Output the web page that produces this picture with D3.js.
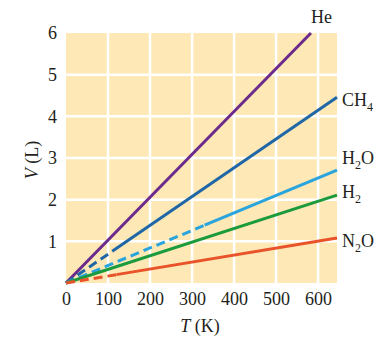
<!DOCTYPE html>
<html>
<head>
<meta charset="utf-8">
<script src="https://cdn.jsdelivr.net/npm/d3@7"></script>
<style>
  body { margin: 0; background: white; }
  text { font-family: "Liberation Serif", "DejaVu Serif", serif; fill: #231f20; }
</style>
</head>
<body>
<script>
var gases = ['He', 'CH4', 'H2O', 'H2', 'N2O'];
var endT = [583, 645, 645, 645, 645];
var endV = [6, 4.46, 2.71, 2.11, 1.08];
var dashUntil = [0, 110, 330, 0, 120];
var colors = ['#6b2a8c', '#1f67a6', '#29a4dd', '#1c9a3e', '#e9532a'];
var xTicks = [0, 100, 200, 300, 400, 500, 600];
var yTicks = [1, 2, 3, 4, 5, 6];

var width = 382, height = 340;
var margin = { top: 33, right: 45, bottom: 57, left: 66 };

var svg = d3.select('body')
  .append('svg')
  .attr('width', width)
  .attr('height', height);

var x = d3.scaleLinear().domain([0, 645]).range([margin.left, width - margin.right]);
var y = d3.scaleLinear().domain([0, 6]).range([height - margin.bottom, margin.top]);

// background of the plot
svg.append('rect')
  .attr('x', x(0))
  .attr('y', y(6))
  .attr('width', x(645) - x(0))
  .attr('height', y(0) - y(6))
  .attr('fill', '#fde8b6');

// white grid
svg.append('g')
  .selectAll('line')
  .data(xTicks.slice(1))
  .enter()
  .append('line')
  .attr('x1', function(d) { return x(d); })
  .attr('x2', function(d) { return x(d); })
  .attr('y1', y(0))
  .attr('y2', y(6))
  .attr('stroke', 'white')
  .attr('stroke-width', 2.5);

svg.append('g')
  .selectAll('line')
  .data(yTicks.slice(0, 5))
  .enter()
  .append('line')
  .attr('x1', x(0))
  .attr('x2', x(645))
  .attr('y1', function(d) { return y(d); })
  .attr('y2', function(d) { return y(d); })
  .attr('stroke', 'white')
  .attr('stroke-width', 2.5);

// axes (ticks text only)
var xAxis = svg.append('g')
  .attr('transform', 'translate(0,' + y(0) + ')')
  .call(d3.axisBottom(x).tickValues(xTicks).tickFormat(d3.format('d')).tickSize(0).tickPadding(9));
var yAxis = svg.append('g')
  .attr('transform', 'translate(' + x(0) + ',0)')
  .call(d3.axisLeft(y).tickValues(yTicks).tickFormat(d3.format('d')).tickSize(0).tickPadding(9));
[xAxis, yAxis].forEach(function(a) {
  a.select('.domain').remove();
  a.selectAll('text')
    .style('font-family', '"Liberation Serif", serif')
    .style('font-size', '18px')
    .attr('fill', '#231f20');
});

// gas lines: dashed part then solid part
gases.forEach(function(g, i) {
  var slope = endV[i] / endT[i];
  if (dashUntil[i] > 0) {
    svg.append('line')
      .attr('x1', x(0)).attr('y1', y(0))
      .attr('x2', x(dashUntil[i])).attr('y2', y(dashUntil[i] * slope))
      .attr('stroke', colors[i])
      .attr('stroke-width', 3)
      .attr('stroke-dasharray', '9,5');
  }
  svg.append('line')
    .attr('x1', x(dashUntil[i])).attr('y1', y(dashUntil[i] * slope))
    .attr('x2', x(endT[i])).attr('y2', y(endV[i]))
    .attr('stroke', colors[i])
    .attr('stroke-width', 3);
});

// labels at line ends
var labelPos = [[311, 23], [342, 106], [342, 164], [342, 198], [342, 247]];
gases.forEach(function(g, i) {
  var t = svg.append('text')
    .attr('x', labelPos[i][0])
    .attr('y', labelPos[i][1])
    .style('font-size', '18px');
  var parts = g.match(/[A-Za-z]+|\d+/g);
  parts.forEach(function(p) {
    if (/\d/.test(p)) {
      t.append('tspan').text(p).attr('dy', 5).style('font-size', '12px');
    } else {
      var s = t.append('tspan').text(p);
      if (t.selectAll('tspan').size() > 1) s.attr('dy', -5);
    }
  });
});

// axis titles
var xt = svg.append('text')
  .attr('x', 200).attr('y', 332)
  .attr('text-anchor', 'middle')
  .style('font-size', '18px');
xt.append('tspan').text('T').style('font-style', 'italic');
xt.append('tspan').text(' (K)');

var yt = svg.append('text')
  .attr('transform', 'translate(38,160) rotate(-90)')
  .attr('text-anchor', 'middle')
  .style('font-size', '18px');
yt.append('tspan').text('V').style('font-style', 'italic');
yt.append('tspan').text(' (L)');
</script>
</body>
</html>
